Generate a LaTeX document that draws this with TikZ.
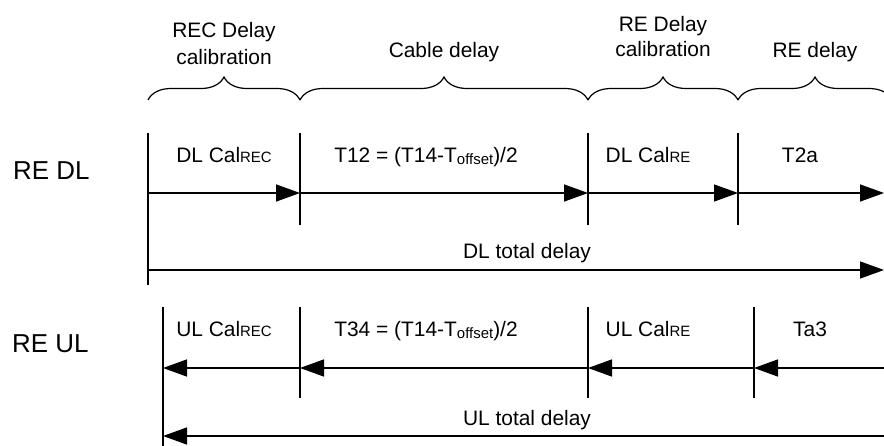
\documentclass[tikz,border=0pt]{standalone}
\usepackage{fontspec}
\setmainfont{Liberation Sans}
\usetikzlibrary{arrows.meta,decorations.pathreplacing}

\newcommand{\subtxt}[1]{{\fontsize{15}{18}\selectfont #1}}
\newcommand{\lowtxt}[1]{\raisebox{-2bp}{\subtxt{#1}}}

\tikzset{
  tick/.style={line width=1.4bp},
  seg/.style={line width=1.4bp, -{Triangle[length=24bp, width=17bp]}},
  brace/.style={line width=1.2bp, decorate, decoration={brace, amplitude=23bp}},
  lbl/.style={font=\fontsize{21}{25}\selectfont, anchor=base, inner sep=0pt},
  rowlbl/.style={font=\fontsize{26}{30}\selectfont, anchor=base west, inner sep=0pt}
}

\begin{document}
\begin{tikzpicture}[x=1bp, y=-1bp]

        \useasboundingbox (0,0) rectangle (884,446);
        \clip (0,0) rectangle (884,446);

        % Braces on top
        \foreach \a/\b in {148/300, 300/588, 588/738, 738/892}
            \draw[brace] (\a,100) -- (\b,100);

        % Brace titles
        \node[lbl] (recdelay) at (224,38) {REC Delay};
        \node[lbl] (reccal) at (224,65) {calibration};
        \node[lbl] (cable) at (444,58) {Cable delay};
        \node[lbl] (redelay) at (663,32) {RE Delay};
        \node[lbl] (recal) at (663,57) {calibration};
        \node[lbl] (reproc) at (815,58) {RE delay};

        % Row labels
        \node[rowlbl] (redl) at (13,180) {RE DL};
        \node[rowlbl] (reul) at (12,353) {RE UL};

        % DL row
        \draw[tick] (148,133) -- (148,285);
        \foreach \x in {300, 588, 738}
            \draw[tick] (\x,133) -- (\x,225);
        \coordinate (d0) at (148,193);
        \coordinate (d1) at (300,193);
        \coordinate (d2) at (588,193);
        \coordinate (d3) at (738,193);
        \coordinate (d4) at (884,193);
        \draw[seg] (d0) -- (d1);
        \draw[seg] (d1) -- (d2);
        \draw[seg] (d2) -- (d3);
        \draw[seg] (d3) -- (d4);
        \node[lbl] (dlcalrec) at (224,163) {DL Cal\subtxt{REC}};
        \node[lbl] (tonetwo) at (426,163) {T12 = (T14-T\lowtxt{offset})/2};
        \node[lbl] (dlcalre) at (648,163) {DL Cal\subtxt{RE}};
        \node[lbl] (ttwoa) at (800,163) {T2a};

        % DL total
        \coordinate (dls) at (148,270);
        \coordinate (dle) at (884,270);
        \draw[seg] (dls) -- (dle);
        \node[lbl] (dltotal) at (527,259) {DL total delay};

        % UL row
        \draw[tick] (163,307) -- (163,446);
        \foreach \x in {300, 588, 754}
            \draw[tick] (\x,307) -- (\x,398);
        \coordinate (u0) at (163,368);
        \coordinate (u1) at (300,368);
        \coordinate (u2) at (588,368);
        \coordinate (u3) at (754,368);
        \coordinate (u4) at (884,368);
        \draw[seg] (u1) -- (u0);
        \draw[seg] (u2) -- (u1);
        \draw[seg] (u3) -- (u2);
        \draw[seg] (u4) -- (u3);
        \node[lbl] (ulcalrec) at (224,337) {UL Cal\subtxt{REC}};
        \node[lbl] (tthreefour) at (426,337) {T34 = (T14-T\lowtxt{offset})/2};
        \node[lbl] (ulcalre) at (648,337) {UL Cal\subtxt{RE}};
        \node[lbl] (tathree) at (810,337) {Ta3};

        % UL total
        \coordinate (uls) at (884,436);
        \coordinate (ule) at (163,436);
        \draw[seg] (uls) -- (ule);
        \node[lbl] (ultotal) at (527,425) {UL total delay};

    \end{tikzpicture}
\end{document}
